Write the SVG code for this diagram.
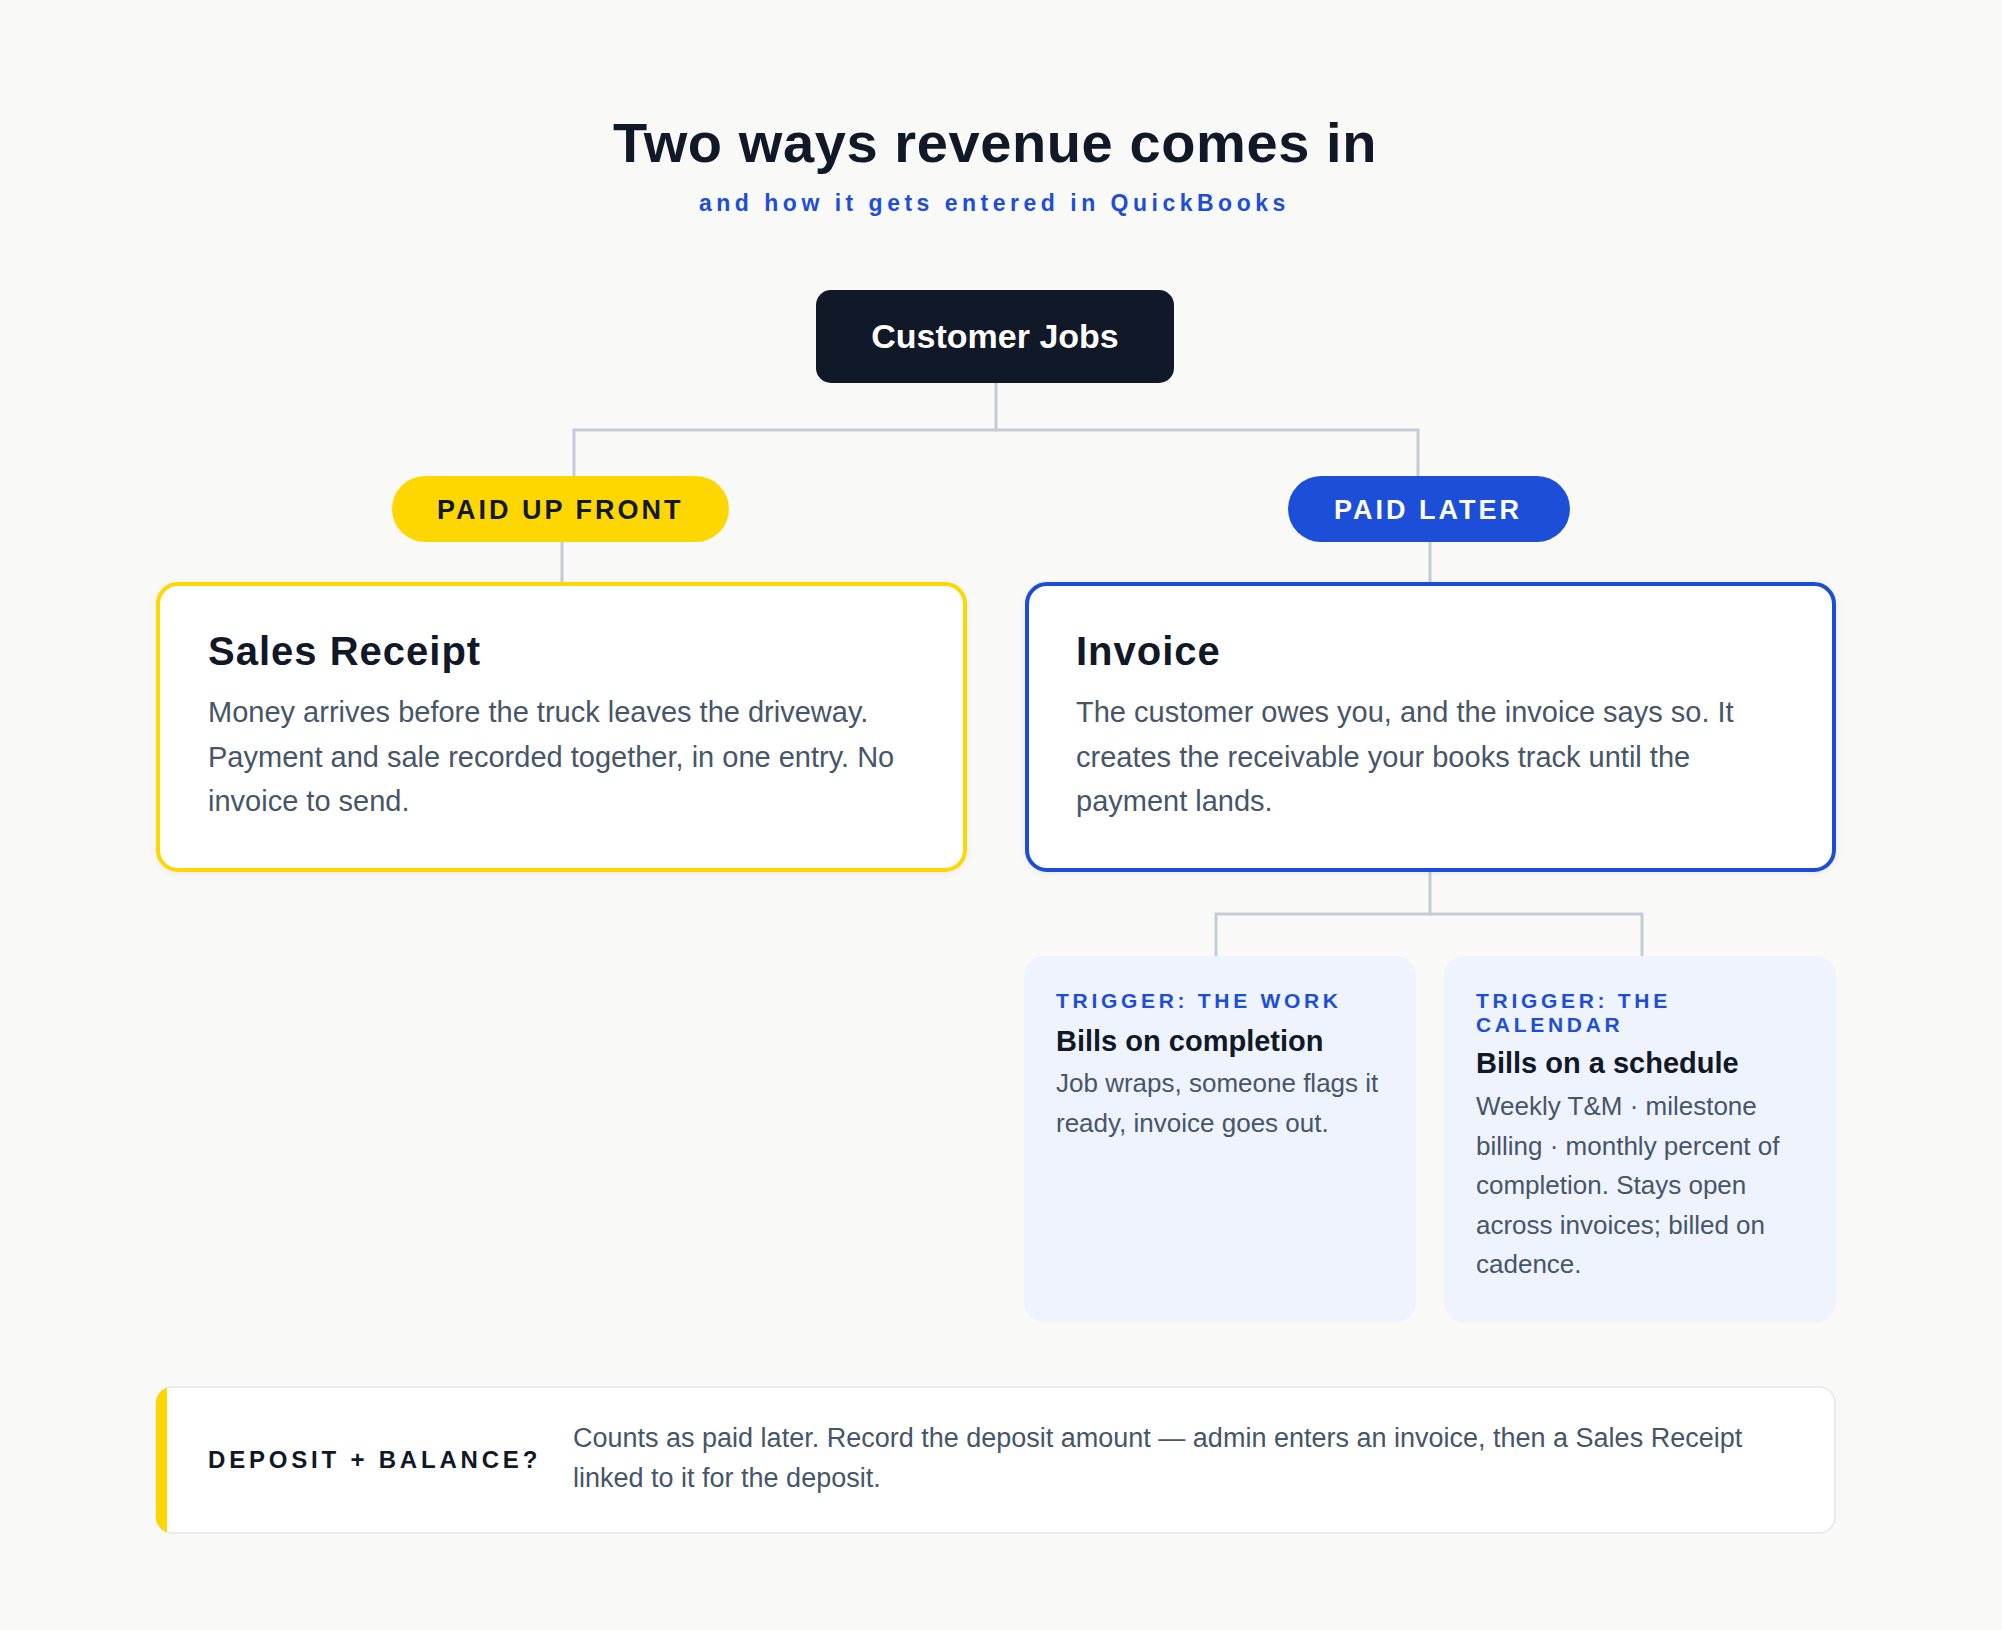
<svg xmlns="http://www.w3.org/2000/svg" width="2002" height="1630" viewBox="0 0 2002 1630">
<defs>
<style>
.f{font-family:"Liberation Sans",Arial,sans-serif}
.title{font-size:56px;font-weight:700;fill:#111827;letter-spacing:0.6px}
.sub{font-size:23px;font-weight:700;fill:#1d4ed8;letter-spacing:4.5px}
.conn{fill:none;stroke:#c5cbd6;stroke-width:3}
.pilltxt{font-size:27px;font-weight:700;letter-spacing:3px}
.ctitle{font-size:40px;font-weight:700;fill:#111827;letter-spacing:1px}
.body{font-size:29px;fill:#475569}
.trig{font-size:21px;font-weight:700;fill:#1d4ed8;letter-spacing:3.7px}
.stitle{font-size:29px;font-weight:700;fill:#111827}
.sbody{font-size:26px;fill:#475569}
</style>
<filter id="sh" x="-5%" y="-5%" width="110%" height="115%">
<feDropShadow dx="0" dy="2" stdDeviation="3" flood-color="#0f172a" flood-opacity="0.06"/>
</filter>
<clipPath id="noteClip"><rect x="156" y="1387" width="1679" height="146" rx="16"/></clipPath>
</defs>
<rect x="0" y="0" width="2002" height="1630" fill="#f9f9f7"/>

<g id="header">
<text class="f title" x="613" y="162">Two ways revenue comes in</text>
<text class="f sub" x="699" y="211">and how it gets entered in QuickBooks</text>
</g>

<g id="connectors">
<path class="conn" d="M996 383 V430 H574 V476"/>
<path class="conn" d="M996 430 H1418 V476"/>
<path class="conn" d="M562 542 V584"/>
<path class="conn" d="M1430 542 V584"/>
<path class="conn" d="M1430 872 V914 H1216 V956"/>
<path class="conn" d="M1430 914 H1642 V956"/>
</g>

<g id="customer-jobs">
<rect x="816" y="290" width="358" height="93" rx="15" fill="#111827"/>
<text class="f" x="995" y="348" text-anchor="middle" font-size="34" font-weight="700" fill="#ffffff">Customer Jobs</text>
</g>

<g id="paid-up-front">
<rect x="392" y="476" width="337" height="66" rx="33" fill="#ffd700"/>
<text class="f pilltxt" x="437" y="519" fill="#111827">PAID UP FRONT</text>
</g>

<g id="paid-later">
<rect x="1288" y="476" width="282" height="66" rx="33" fill="#1d4ed8"/>
<text class="f pilltxt" x="1334" y="519" fill="#ffffff">PAID LATER</text>
</g>

<g id="sales-receipt">
<rect x="158" y="584" width="807" height="286" rx="20" fill="#ffffff" stroke="#ffd700" stroke-width="4" filter="url(#sh)"/>
<text class="f ctitle" x="208" y="665">Sales Receipt</text>
<text class="f body" x="208" y="722">Money arrives before the truck leaves the driveway.</text>
<text class="f body" x="208" y="766.5">Payment and sale recorded together, in one entry. No</text>
<text class="f body" x="208" y="811">invoice to send.</text>
</g>

<g id="invoice">
<rect x="1027" y="584" width="807" height="286" rx="20" fill="#ffffff" stroke="#1d4ed8" stroke-width="4" filter="url(#sh)"/>
<text class="f ctitle" x="1076" y="665">Invoice</text>
<text class="f body" x="1076" y="722">The customer owes you, and the invoice says so. It</text>
<text class="f body" x="1076" y="766.5">creates the receivable your books track until the</text>
<text class="f body" x="1076" y="811">payment lands.</text>
</g>

<g id="bills-on-completion">
<rect x="1024" y="956" width="392" height="366" rx="20" fill="#eef3fd"/>
<text class="f trig" x="1056" y="1008">TRIGGER: THE WORK</text>
<text class="f stitle" x="1056" y="1051">Bills on completion</text>
<text class="f sbody" x="1056" y="1092">Job wraps, someone flags it</text>
<text class="f sbody" x="1056" y="1132">ready, invoice goes out.</text>
</g>

<g id="bills-on-schedule">
<rect x="1444" y="956" width="392" height="366" rx="20" fill="#eef3fd"/>
<text class="f trig" x="1476" y="1008">TRIGGER: THE</text>
<text class="f trig" x="1476" y="1032">CALENDAR</text>
<text class="f stitle" x="1476" y="1073">Bills on a schedule</text>
<text class="f sbody" x="1476" y="1115">Weekly T&amp;M · milestone</text>
<text class="f sbody" x="1476" y="1154.5">billing · monthly percent of</text>
<text class="f sbody" x="1476" y="1194">completion. Stays open</text>
<text class="f sbody" x="1476" y="1233.5">across invoices; billed on</text>
<text class="f sbody" x="1476" y="1273">cadence.</text>
</g>

<g id="deposit-note">
<rect x="156" y="1387" width="1679" height="146" rx="16" fill="#ffffff" stroke="#e3e7ed" stroke-width="1.5"/>
<rect x="154" y="1385" width="13" height="150" fill="#ffd700" clip-path="url(#noteClip)"/>
<text class="f" x="208" y="1468" font-size="24" font-weight="700" fill="#111827" letter-spacing="3.8">DEPOSIT + BALANCE?</text>
<text class="f" x="573" y="1447" font-size="27" fill="#475569">Counts as paid later. Record the deposit amount — admin enters an invoice, then a Sales Receipt</text>
<text class="f" x="573" y="1487" font-size="27" fill="#475569">linked to it for the deposit.</text>
</g>
</svg>
